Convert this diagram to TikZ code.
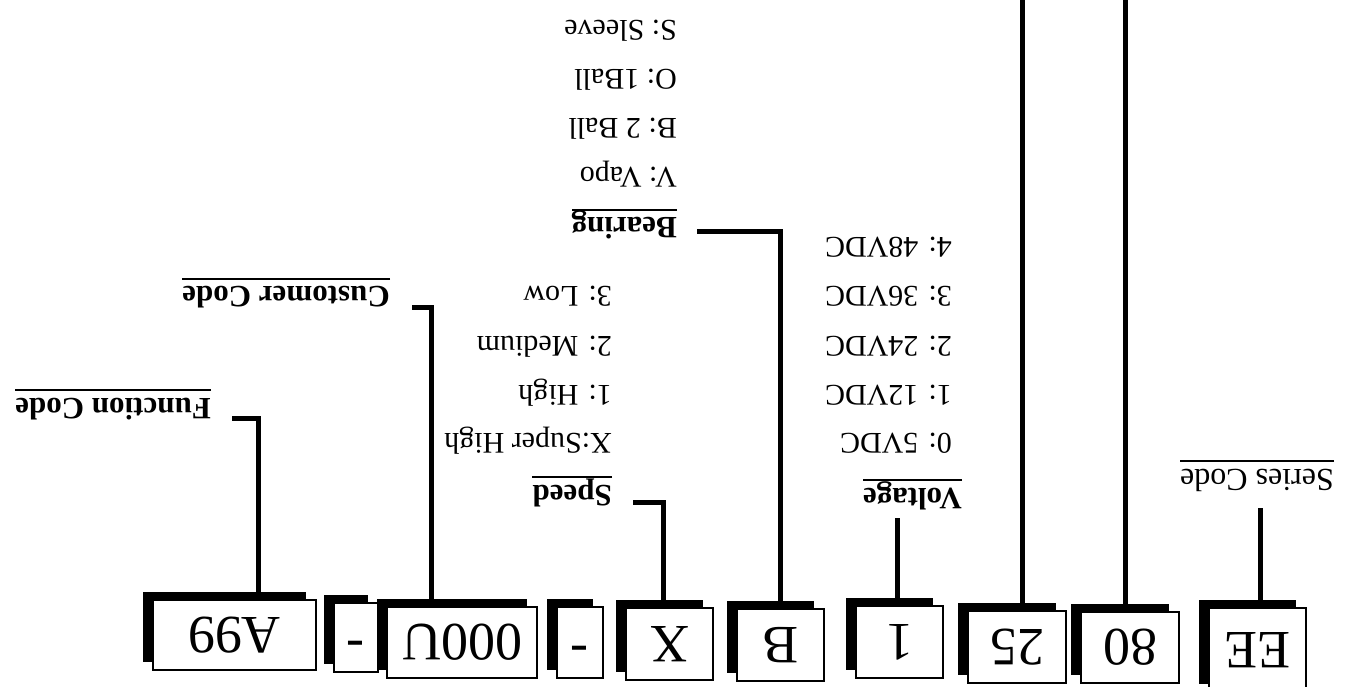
\documentclass[tikz,border=0pt]{standalone}
\usepackage{fontspec}
\setmainfont{Liberation Serif}
\usepackage{graphicx}
\usetikzlibrary{shadows}
\newcommand\flipit[1]{\rotatebox[origin=c]{180}{#1}}
\begin{document}
\begin{tikzpicture}[x=1pt,y=-1pt,
  box/.style={draw=black,line width=2pt,fill=white,inner sep=0pt,
    font=\fontsize{54}{54}\selectfont,
    drop shadow={shadow xshift=-10pt,shadow yshift=8pt,fill=black,opacity=1}},
  item/.style={rotate=180,anchor=base west,inner sep=0pt,font=\fontsize{30}{30}\selectfont},
  lab/.style={rotate=180,anchor=base west,inner sep=0pt,font=\fontsize{31}{31}\selectfont\bfseries},
  serieslab/.style={rotate=180,anchor=base west,inner sep=0pt,font=\fontsize{32}{32}\selectfont},
  conn/.style={line width=5pt},
  uline/.style={line width=2pt}]
\useasboundingbox[fill=white] (0,0) rectangle (1353,687);

% boxes
\node[box,minimum width=163pt,minimum height=70pt] (A99) at (234.5,635) {\flipit{A99}};
\node[box,minimum width=44pt,minimum height=69pt] (d1) at (356,637.5) {\flipit{-}};
\node[box,minimum width=150pt,minimum height=71pt] (U000) at (462,642.5) {\flipit{000U}};
\node[box,minimum width=46pt,minimum height=71pt] (d2) at (580,642.5) {\flipit{-}};
\node[box,minimum width=87pt,minimum height=72pt] (X) at (669.5,644) {\flipit{X}};
\node[box,minimum width=87pt,minimum height=72pt] (B) at (780.5,645) {\flipit{B}};
\node[box,minimum width=87pt,minimum height=72pt] (one) at (899.5,642) {\flipit{1}};
\node[box,minimum width=98pt,minimum height=72pt] (tf) at (1017,647) {\flipit{25}};
\node[box,minimum width=98pt,minimum height=71pt] (eo) at (1130,647.5) {\flipit{80}};
\node[box,minimum width=97pt,minimum height=84pt] (EE) at (1257.5,650) {\flipit{EE}};

% labels
\node[lab] (fc) at (211,398) {Function Code};
\node[lab] (cc) at (390,287) {Customer Code};
\node[lab] (sp) at (612,485) {Speed};
\node[lab] (br) at (677,218) {Bearing};
\node[lab] (vo) at (962,488) {Voltage};
\node[serieslab] (sc) at (1334,469) {Series Code};
\foreach \n in {fc,cc,sp,br,vo,sc}
  \draw[uline] ([yshift=8pt]\n.base west) -- ([yshift=8pt]\n.base east);

% speed list
\node[item] (s0) at (612,433) {X:Super High};
\node[item] (s1) at (612,385) {1: High};
\node[item] (s2) at (612,336) {2: Medium};
\node[item] (s3) at (612,287) {3: Low};
% voltage list
\node[item] (v0) at (952,433) {0: 5VDC};
\node[item] (v1) at (952,385) {1: 12VDC};
\node[item] (v2) at (952,336) {2: 24VDC};
\node[item] (v3) at (952,287) {3: 36VDC};
\node[item] (v4) at (952,238) {4: 48VDC};
% bearing list
\node[item] (b0) at (677,168) {V: Vapo};
\node[item] (b1) at (677,119) {B: 2 Ball};
\node[item] (b2) at (677,70) {O: 1Ball};
\node[item] (b3) at (677,21) {S: Sleeve};

% connectors
\coordinate (fcA) at (232,418); \coordinate (fcB) at (258,418);
\draw[conn] (fcA) -- (fcB) -- (fcB |- A99.north);
\coordinate (ccA) at (412,308); \coordinate (ccB) at (431,308);
\draw[conn] (ccA) -- (ccB) -- (ccB |- U000.north);
\coordinate (spA) at (633,502); \coordinate (spB) at (663,502);
\draw[conn] (spA) -- (spB) -- (spB |- X.north);
\coordinate (brA) at (697,232); \coordinate (brB) at (780,232);
\draw[conn] (brA) -- (brB) -- (brB |- B.north);
\coordinate (voA) at (897,518);
\draw[conn] (voA) -- (voA |- one.north);
\coordinate (tfA) at (1022,-5);
\draw[conn] (tfA) -- (tfA |- tf.north);
\coordinate (eoA) at (1125,-5);
\draw[conn] (eoA) -- (eoA |- eo.north);
\coordinate (scA) at (1260,508);
\draw[conn] (scA) -- (scA |- EE.north);
\end{tikzpicture}
\end{document}
